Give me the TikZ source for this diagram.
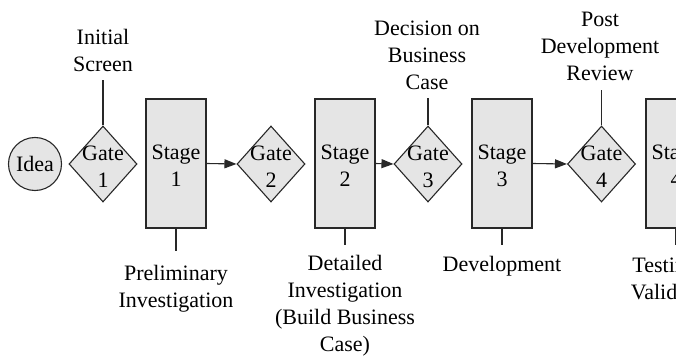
\documentclass[tikz,border=0pt]{standalone}
\usepackage{fontspec}
\setmainfont{Liberation Serif}
\usetikzlibrary{shapes.geometric,arrows.meta}
\definecolor{boxfill}{RGB}{229,229,229}
\definecolor{boxline}{RGB}{40,40,40}
\begin{document}
\begin{tikzpicture}[x=1pt,y=-1pt,
  every node/.style={font=\fontsize{22}{27}\selectfont, text=black},
  shapeline/.style={draw=boxline, line width=1.1pt, fill=boxfill},
  stagebox/.style={shapeline, rectangle, minimum width=60pt, minimum height=129pt, inner sep=0pt},
  gatebox/.style={shapeline, diamond, minimum width=68pt, minimum height=76pt, inner sep=0pt},
  ideabox/.style={shapeline, circle, minimum size=53pt, inner sep=0pt},
  inside/.style={label={[align=center,inner sep=0pt,yshift=-2.5pt]center:#1}},
  note/.style={align=center, inner sep=0pt},
  tick/.style={draw=boxline, line width=1.1pt},
  flow/.style={tick, -{Triangle[length=12pt,width=9pt]}}
]
\clip (0,0) rectangle (676,358);

% process row
\node[ideabox] (idea) at (35,164) {Idea};
\node[gatebox, inside={Gate\\1}] (g1) at (103,164) {};
\node[stagebox, inside={Stage\\1}] (s1) at (176,163.5) {};
\node[gatebox, inside={Gate\\2}] (g2) at (271,164) {};
\node[stagebox, inside={Stage\\2}] (s2) at (345,163.5) {};
\node[gatebox, inside={Gate\\3}] (g3) at (428,164) {};
\node[stagebox, inside={Stage\\3}] (s3) at (502,163.5) {};
\node[gatebox, inside={Gate\\4}] (g4) at (601.5,164) {};
\node[stagebox, inside={Stage\\4}] (s4) at (676,163.5) {};

% flow arrows
\draw[flow] (s1.east) -- (g2.west);
\draw[flow] (s2.east) -- (g3.west);
\draw[flow] (s3.east) -- (g4.west);

% leader line ends
\coordinate (t1) at (103,80);
\coordinate (t3) at (428,98);
\coordinate (t4) at (601.5,90);
\coordinate (b1) at (176,251);
\coordinate (b2) at (345,245);
\coordinate (b3) at (502,245);
\coordinate (b4) at (676,245);
\draw[tick] (g1.north) -- (t1);
\draw[tick] (g3.north) -- (t3);
\draw[tick] (g4.north) -- (t4);
\draw[tick] (s1.south) -- (b1);
\draw[tick] (s2.south) -- (b2);
\draw[tick] (s3.south) -- (b3);
\draw[tick] (s4.south) -- (b4);

% gate descriptions
\node[note] (n1) at (103,50) {Initial\\Screen};
\node[note] (n3) at (427,55) {Decision on\\Business\\Case};
\node[note] (n4) at (600,46) {Post\\Development\\Review};

% stage descriptions
\node[note] (d1) at (176,289) {Preliminary\\Investigation};
\node[note] (d2) at (345,306) {Detailed\\Investigation\\(Build Business\\Case)};
\node[note] (d3) at (502,266) {Development};
\node[note] (d4) at (676,279) {Testing \&\\Validation};
\end{tikzpicture}
\end{document}
